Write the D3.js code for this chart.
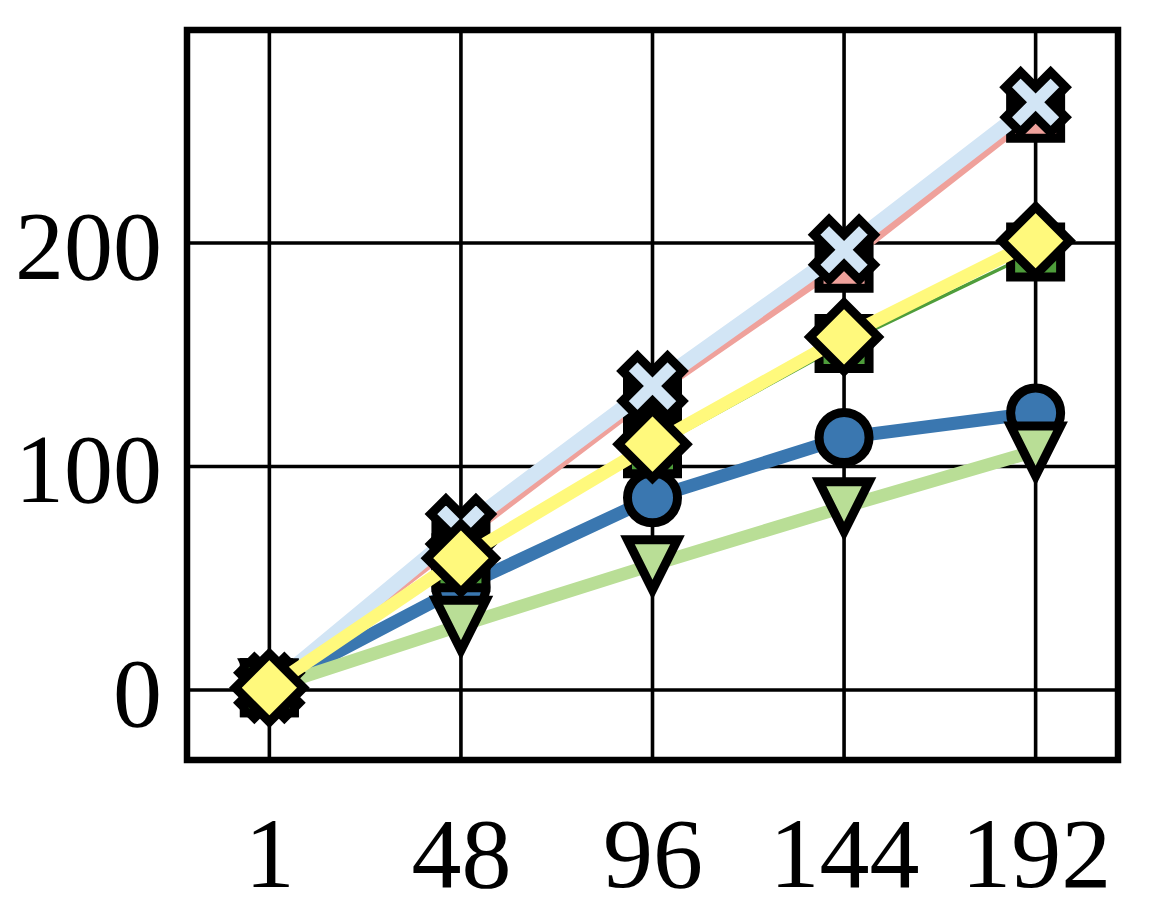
<!DOCTYPE html>
<html>
<head>
<meta charset="utf-8">
<script src="https://cdn.jsdelivr.net/npm/d3@7"></script>
<style>
  html, body { margin: 0; padding: 0; background: #ffffff; }
  svg { display: block; }
</style>
</head>
<body>
<svg id="chart" width="1150" height="900"></svg>
<script>
// ---- data ----
const categories = ["1", "48", "96", "144", "192"];
const yTicks = [0, 100, 200];

const seriesBlue       = [1, 46, 86, 113, 124];   // circles
const seriesLightGreen = [1, 29, 56, 82, 107];    // triangles down
const seriesPink       = [1, 67, 132, 191, 258];  // squares
const seriesLightBlue  = [1, 72, 136, 197, 263];  // filled X
const seriesDarkGreen  = [1, 57, 108, 155, 196];  // squares
const seriesYellow     = [1, 59, 110, 158, 201];  // diamonds

const series = [
  { values: seriesBlue,       color: "#3a77b0", width: 13,  marker: "circle" },
  { values: seriesLightGreen, color: "#b9de96", width: 13,  marker: "triDown" },
  { values: seriesPink,       color: "#efa19b", width: 8,   marker: "square" },
  { values: seriesLightBlue,  color: "#d2e5f5", width: 15,  marker: "xFilled" },
  { values: seriesDarkGreen,  color: "#4e9d3b", width: 3.5, marker: "square" },
  { values: seriesYellow,     color: "#fff97c", width: 13,  marker: "diamond" }
];

// ---- layout ----
const svg = d3.select("#chart");
const plot = { left: 187, right: 1118, top: 30, bottom: 760 };

const x = d3.scalePoint()
  .domain(categories)
  .range([plot.left, plot.right])
  .padding(0.43);

const y = d3.scaleLinear()
  .domain([-31.3, 295.3])
  .range([plot.bottom, plot.top]);

const fontFam = "'Liberation Serif', 'Times New Roman', Times, serif";

// gridlines
const grid = svg.append("g");
grid.selectAll("line.vx").data(categories).enter().append("line")
  .attr("x1", d => x(d)).attr("x2", d => x(d))
  .attr("y1", plot.top).attr("y2", plot.bottom)
  .attr("stroke", "#000").attr("stroke-width", 3.6);
grid.selectAll("line.hy").data(yTicks).enter().append("line")
  .attr("x1", plot.left).attr("x2", plot.right)
  .attr("y1", d => y(d)).attr("y2", d => y(d))
  .attr("stroke", "#000").attr("stroke-width", 3.6);

// axes labels via d3 axes
const yAxis = d3.axisLeft(y).tickValues(yTicks).tickSize(0).tickPadding(25);
const gy = svg.append("g").attr("transform", `translate(${plot.left},0)`).call(yAxis);
gy.select(".domain").remove();
gy.selectAll("text")
  .attr("font-family", fontFam).attr("font-size", 98).attr("fill", "#000")
  .attr("dy", 35);

const xAxis = d3.axisBottom(x).tickSize(0).tickPadding(0);
const gx = svg.append("g").attr("transform", `translate(0,${plot.bottom})`).call(xAxis);
gx.select(".domain").remove();
gx.selectAll("text")
  .attr("font-family", fontFam).attr("font-size", 100).attr("fill", "#000")
  .attr("y", 0).attr("dy", 127);

// marker shapes
const ms = 50;
function markerPath(type) {
  const s = ms / 2;
  switch (type) {
    case "square":
      return `M${-s},${-s}H${s}V${s}H${-s}Z`;
    case "diamond": {
      const h = 34;
      return `M0,${-h}L${h},0L0,${h}L${-h},0Z`;
    }
    case "triDown": {
      const t = 25;
      return `M${-t},${-t}L${t},${-t}L0,${t}Z`;
    }
    case "xFilled": {
      const k = 60 / 4;
      const pts = [[-1,-2],[0,-1],[1,-2],[2,-1],[1,0],[2,1],[1,2],[0,1],[-1,2],[-2,1],[-1,0],[-2,-1]];
      return "M" + pts.map(p => `${p[0]*k},${p[1]*k}`).join("L") + "Z";
    }
  }
  return "";
}

const line = d3.line()
  .x((d, i) => x(categories[i]))
  .y(d => y(d));

series.forEach(s => {
  const g = svg.append("g");
  g.append("path")
    .attr("d", line(s.values))
    .attr("fill", "none")
    .attr("stroke", s.color)
    .attr("stroke-width", s.width)
    .attr("stroke-linejoin", "round")
    .attr("stroke-linecap", "butt");
  const m = g.selectAll("g.m").data(s.values).enter().append("g")
    .attr("transform", (d, i) => `translate(${x(categories[i])},${y(d)})`);
  if (s.marker === "circle") {
    m.append("circle").attr("r", 25);
  } else {
    m.append("path").attr("d", markerPath(s.marker));
  }
  m.selectAll("circle, path")
    .attr("fill", s.color)
    .attr("stroke", "#000")
    .attr("stroke-width", 9)
    .attr("stroke-linejoin", "miter");
});

// frame (spines)
svg.append("rect")
  .attr("x", plot.left).attr("y", plot.top)
  .attr("width", plot.right - plot.left).attr("height", plot.bottom - plot.top)
  .attr("fill", "none").attr("stroke", "#000").attr("stroke-width", 6.5);
</script>
</body>
</html>
